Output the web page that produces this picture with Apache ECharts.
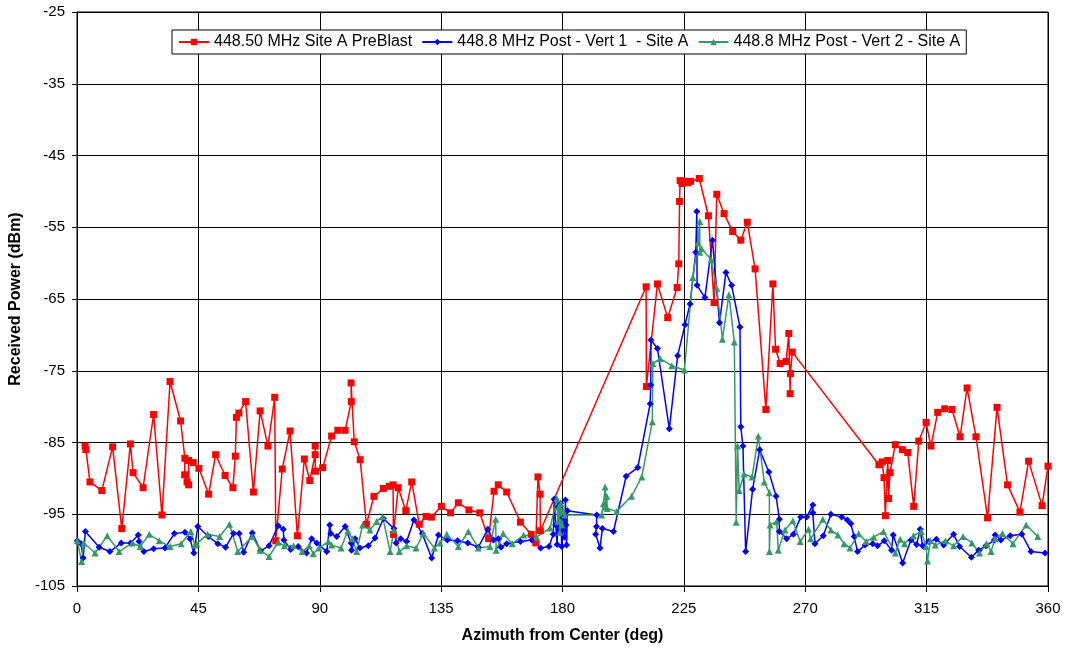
<!DOCTYPE html>
<html><head><meta charset="utf-8">
<script src="https://cdn.jsdelivr.net/npm/echarts@6/dist/echarts.min.js"></script>
<style>html,body{margin:0;padding:0;background:#fff}#c{width:1067px;height:649px}</style>
</head><body><div id="c"></div>
<script>
const seriesNames = ['448.50 MHz Site A PreBlast', '448.8 MHz Post - Vert 1  - Site A', '448.8 MHz Post - Vert 2 - Site A'];
const xTicks = [0, 45, 90, 135, 180, 225, 270, 315, 360];
const yTicks = [-105, -95, -85, -75, -65, -55, -45, -35, -25];

const redAz = [3.0,3.3,4.8,9.2,13.2,16.6,19.8,20.8,24.5,28.4,31.5,34.5,38.4,40.0,39.9,40.8,41.4,41.4,43.1,45.2,48.8,51.4,54.9,57.8,58.7,59.1,60.0,62.5,65.4,67.9,70.8,73.3,73.7,76.1,79.0,81.7,84.3,86.3,88.3,88.3,88.4,91.1,94.4,96.7,99.4,101.7,101.6,102.8,105.0,107.3,110.1,113.6,115.8,117.2,117.3,119.1,121.9,124.1,126.9,129.4,131.4,135.1,138.5,141.4,145.3,149.3,152.6,154.6,156.2,159.3,164.4,168.4,170.1,170.9,171.7,171.8,211.0,211.1,215.2,219.0,222.5,223.1,223.4,223.6,224.3,225.3,226.4,227.5,230.7,234.1,236.2,237.2,239.9,243.1,246.1,248.5,251.4,255.4,258.0,259.0,260.7,262.9,263.9,264.4,264.5,265.2,297.3,298.5,299.2,299.7,300.6,300.9,301.4,303.4,306.0,308.0,310.2,312.1,314.8,316.6,319.1,321.7,324.4,327.4,330.0,333.3,337.6,341.1,345.0,349.6,352.8,357.8,360.0];
const redDb = [-85.5,-86.0,-90.5,-91.7,-85.6,-97.0,-85.2,-89.2,-91.3,-81.1,-95.1,-76.5,-82.0,-87.2,-89.5,-90.5,-90.9,-87.5,-87.8,-88.6,-92.2,-86.7,-89.6,-91.3,-86.9,-81.5,-80.9,-79.3,-91.9,-80.6,-85.5,-78.7,-98.7,-88.7,-83.4,-98.0,-87.3,-90.3,-86.7,-85.5,-89.0,-88.5,-84.1,-83.3,-83.3,-79.3,-76.7,-84.9,-87.4,-96.4,-92.5,-91.4,-91.1,-90.9,-97.8,-91.3,-94.5,-90.5,-96.4,-95.3,-95.4,-93.9,-94.8,-93.4,-94.4,-94.8,-98.4,-91.8,-90.9,-91.9,-96.1,-97.8,-99.0,-89.8,-92.2,-97.3,-63.3,-77.2,-62.9,-67.6,-63.4,-60.1,-51.4,-48.5,-48.9,-48.6,-48.8,-48.6,-48.2,-53.4,-65.5,-50.4,-53.1,-55.6,-56.8,-54.3,-60.8,-80.4,-62.9,-72.0,-74.0,-73.7,-69.8,-78.2,-75.4,-72.4,-88.1,-87.7,-89.9,-95.2,-87.5,-92.8,-89.2,-85.3,-86.0,-86.4,-93.9,-84.8,-82.2,-85.5,-80.8,-80.3,-80.4,-84.2,-77.4,-84.2,-95.5,-80.1,-90.9,-94.7,-87.6,-93.8,-88.3];

const blueAz = [0.1,1.5,2.3,3.1,8.2,12.2,16.4,19.9,22.7,23.0,24.8,28.4,32.6,36.1,40.0,41.9,43.3,44.8,48.7,52.2,55.1,58.0,60.1,61.8,65.0,68.0,71.2,74.6,76.5,76.7,79.2,82.0,85.1,87.0,88.9,92.6,93.7,94.1,96.3,99.4,101.6,101.8,103.1,104.9,108.0,110.5,113.6,117.5,118.3,120.0,122.2,124.9,128.0,131.5,134.0,137.3,141.1,144.9,148.8,152.3,154.4,156.2,157.2,159.3,164.4,168.6,171.9,175.0,176.6,176.9,177.5,178.0,178.4,178.8,179.3,179.7,180.2,180.7,181.1,181.3,181.5,181.8,192.7,192.6,192.3,193.9,194.8,198.9,203.6,207.9,212.5,212.7,212.8,215.2,219.6,222.7,225.4,227.3,229.4,229.8,229.9,232.8,235.6,238.2,240.6,242.7,245.8,246.1,246.9,247.9,250.5,253.1,256.5,259.2,260.4,260.4,263.1,265.6,268.3,270.5,272.8,272.8,273.6,276.7,279.5,283.5,285.6,286.9,288.1,289.4,292.2,295.0,296.8,299.3,302.0,302.6,306.1,309.2,311.3,312.6,313.5,315.7,318.6,321.3,325.0,327.2,331.6,334.3,337.0,340.1,340.4,342.5,346.0,350.3,353.7,358.9];
const blueDb = [-98.7,-99.1,-101.1,-97.4,-99.6,-100.2,-99.0,-99.0,-97.9,-98.8,-100.2,-99.8,-99.7,-97.7,-97.5,-98.4,-100.4,-96.7,-98.1,-99.1,-99.6,-97.7,-97.7,-100.3,-97.6,-100.1,-99.4,-96.6,-97.1,-98.6,-99.9,-99.5,-100.4,-98.4,-99.0,-100.2,-96.5,-97.7,-98.1,-96.7,-99.0,-100.0,-98.4,-99.7,-99.4,-98.3,-95.6,-97.0,-99.0,-98.4,-98.8,-95.8,-97.7,-101.1,-97.9,-98.6,-98.7,-99.0,-99.6,-97.1,-98.6,-98.4,-99.6,-99.1,-98.8,-98.6,-99.7,-99.5,-97.8,-92.9,-96.5,-99.2,-94.0,-97.5,-93.5,-99.5,-95.5,-98.2,-93.0,-96.5,-99.3,-94.5,-95.1,-96.7,-97.8,-99.7,-97.0,-97.4,-89.7,-88.5,-79.6,-77.0,-70.7,-71.9,-83.1,-72.9,-68.6,-65.7,-58.5,-52.8,-63.1,-64.8,-56.8,-68.3,-61.3,-63.1,-68.9,-82.8,-85.5,-100.2,-91.5,-86.0,-89.1,-92.5,-95.7,-97.4,-98.4,-97.8,-95.4,-95.4,-93.7,-94.8,-99.1,-98.0,-95.0,-95.4,-95.8,-96.3,-98.1,-100.2,-99.3,-99.1,-99.4,-98.7,-100.0,-97.9,-101.8,-98.6,-99.2,-97.1,-99.4,-98.8,-98.5,-99.3,-97.8,-99.5,-101.0,-100.0,-99.4,-98.6,-97.9,-98.6,-98.0,-97.8,-100.2,-100.4];

const greenAz = [0.1,1.7,2.5,6.7,11.2,15.6,20.5,23.4,26.8,30.5,34.5,38.6,42.2,43.7,44.4,48.4,52.9,56.5,59.6,65.0,67.9,71.2,74.6,76.9,80.3,83.5,86.1,87.6,89.7,93.2,94.4,97.9,100.4,102.1,103.7,105.9,108.6,111.1,113.3,116.1,117.5,119.5,122.2,125.7,128.4,132.5,134.6,137.1,141.4,145.1,148.8,153.1,155.2,155.4,158.0,161.4,165.6,170.4,175.4,177.9,178.3,178.6,179.0,179.4,179.8,180.2,180.8,194.5,195.2,195.8,196.0,196.4,196.6,200.1,205.6,209.4,213.3,213.5,216.2,220.5,225.2,228.3,230.2,230.9,230.9,231.6,235.1,237.2,239.3,241.7,243.7,244.4,244.9,245.5,247.3,250.3,252.6,254.8,256.7,256.7,257.0,259.4,260.0,262.5,265.4,268.1,271.2,272.0,276.5,279.5,282.1,284.4,286.6,289.8,292.6,295.4,299.0,303.4,305.2,306.8,310.1,313.0,314.8,315.3,316.4,318.2,322.0,325.0,328.5,331.8,334.6,337.3,338.9,340.4,343.1,347.0,351.9,356.2];
const greenDb = [-98.7,-101.6,-99.0,-100.4,-98.0,-100.2,-99.0,-99.5,-97.8,-98.7,-99.5,-99.1,-97.4,-99.3,-99.1,-97.8,-98.1,-96.4,-100.2,-98.1,-100.0,-100.9,-98.9,-99.4,-99.4,-100.2,-99.4,-100.5,-99.7,-98.8,-99.3,-99.7,-97.3,-98.4,-100.2,-96.5,-97.2,-96.0,-95.3,-100.2,-97.2,-100.2,-99.4,-99.7,-97.7,-99.7,-99.0,-97.8,-99.5,-97.4,-99.7,-99.5,-95.7,-100.0,-97.7,-99.1,-97.9,-98.2,-96.9,-92.8,-96.0,-94.0,-97.5,-93.5,-96.5,-94.5,-95.1,-95.1,-93.5,-91.2,-94.0,-92.5,-94.2,-94.6,-92.5,-89.8,-82.1,-74.0,-73.3,-74.3,-74.9,-62.0,-57.2,-54.2,-58.5,-58.0,-59.5,-63.5,-70.6,-64.4,-71.0,-96.1,-85.5,-91.7,-89.4,-89.8,-84.1,-90.5,-92.0,-100.2,-96.5,-96.0,-100.0,-97.2,-95.9,-98.8,-97.1,-98.4,-95.7,-97.2,-97.9,-99.1,-99.7,-97.7,-98.8,-98.2,-97.4,-100.4,-98.5,-99.1,-98.0,-97.4,-99.5,-101.5,-98.7,-99.3,-98.7,-99.4,-98.1,-99.0,-100.4,-99.1,-100.2,-98.4,-97.7,-99.1,-96.5,-98.1];

const zip = (a, b) => a.map((v, i) => [v, b[i]]);
const FONT = 'Liberation Sans';
const chart = echarts.init(document.getElementById('c'), null, {renderer: 'canvas'});
function mk(name, az, db, color, symbol, size) {
  return {
    name, type: 'line', data: zip(az, db), symbol, symbolSize: size,
    showSymbol: true, itemStyle: {color}, lineStyle: {color, width: 1.5},
    emphasis: {disabled: true}
  };
}
chart.setOption({
  animation: false,
  backgroundColor: '#fff',
  textStyle: {fontFamily: FONT},
  grid: {left: 77, right: 19, top: 12, bottom: 63, show: true, borderColor: '#000', borderWidth: 1, backgroundColor: '#fff'},
  legend: {
    left: 172, top: 30, itemWidth: 30, itemHeight: 8, itemGap: 9,
    padding: [4, 6], borderColor: '#000', borderWidth: 1, backgroundColor: '#fff',
    textStyle: {fontFamily: FONT, fontSize: 16, color: '#000'},
    data: seriesNames
  },
  xAxis: {
    type: 'value', min: 0, max: 360, interval: 45,
    name: 'Azimuth from Center (deg)', nameLocation: 'middle', nameGap: 42,
    nameTextStyle: {fontFamily: FONT, fontSize: 16, fontWeight: 'bold', color: '#000'},
    axisLine: {show: true, lineStyle: {color: '#000', width: 1}},
    axisTick: {show: true, inside: false, length: 6, lineStyle: {color: '#000'}, customValues: xTicks},
    axisLabel: {fontFamily: FONT, fontSize: 15, color: '#000', margin: 15, customValues: xTicks},
    splitLine: {show: true, lineStyle: {color: '#000', width: 1}}
  },
  yAxis: {
    type: 'value', min: -105, max: -25,
    name: 'Received Power (dBm)', nameLocation: 'middle', nameGap: 51, nameRotate: 90,
    nameTextStyle: {fontFamily: FONT, fontSize: 16, fontWeight: 'bold', color: '#000'},
    axisLine: {show: true, lineStyle: {color: '#000', width: 1}},
    axisTick: {show: true, inside: false, length: 5, lineStyle: {color: '#000'}, customValues: yTicks},
    axisLabel: {fontFamily: FONT, fontSize: 15, color: '#000', margin: 12, customValues: yTicks},
    splitLine: {show: true, lineStyle: {color: '#000', width: 1}}
  },
  series: [
    mk(seriesNames[0], redAz, redDb, '#FF0000', 'rect', 7),
    mk(seriesNames[1], blueAz, blueDb, '#0000FF', 'diamond', 7),
    mk(seriesNames[2], greenAz, greenDb, '#339966', 'triangle', 7)
  ]
});
</script>
</body></html>
